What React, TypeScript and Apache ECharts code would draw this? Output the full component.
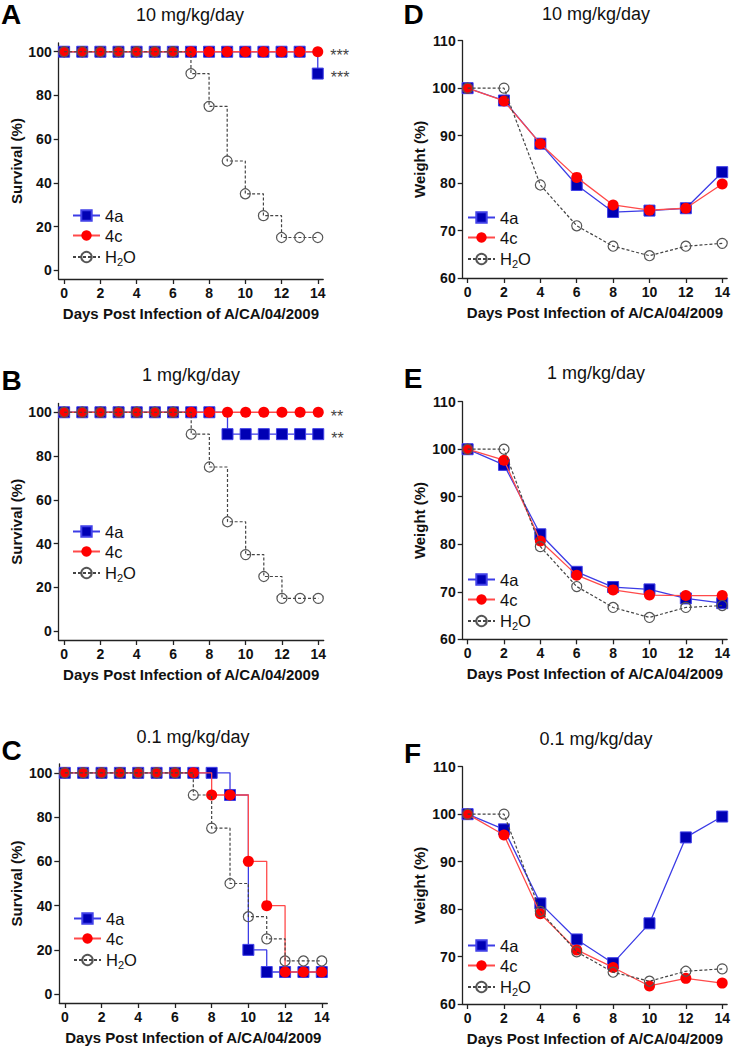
import React, { useEffect, useRef } from "react";
import * as echarts from "echarts";

// ---------- data ----------
const survivalDays = [0, 1, 2, 3, 4, 5, 6, 7, 8, 9, 10, 11, 12, 13, 14];
const weightDays = [0, 2, 4, 6, 8, 10, 12, 14];
const xTickValues = [0, 2, 4, 6, 8, 10, 12, 14];
const survivalYTicks = [0, 20, 40, 60, 80, 100];
const weightYTicks = [60, 70, 80, 90, 100, 110];
const seriesNames = ["4a", "4c", "H2O"];

const panelTitles = ["10 mg/kg/day", "1 mg/kg/day", "0.1 mg/kg/day", "10 mg/kg/day", "1 mg/kg/day", "0.1 mg/kg/day"];
const panelLetters = ["A", "B", "C", "D", "E", "F"];

// Survival (%) panels A, B, C
const survA_4a = [100, 100, 100, 100, 100, 100, 100, 100, 100, 100, 100, 100, 100, 100, 90];
const survA_4c = [100, 100, 100, 100, 100, 100, 100, 100, 100, 100, 100, 100, 100, 100, 100];
const survA_h2o = [100, 100, 100, 100, 100, 100, 100, 90, 75, 50, 35, 25, 15, 15, 15];

const survB_4a = [100, 100, 100, 100, 100, 100, 100, 100, 100, 90, 90, 90, 90, 90, 90];
const survB_4c = [100, 100, 100, 100, 100, 100, 100, 100, 100, 100, 100, 100, 100, 100, 100];
const survB_h2o = [100, 100, 100, 100, 100, 100, 100, 90, 75, 50, 35, 25, 15, 15, 15];

const survC_4a = [100, 100, 100, 100, 100, 100, 100, 100, 100, 90, 20, 10, 10, 10, 10];
const survC_4c = [100, 100, 100, 100, 100, 100, 100, 100, 90, 90, 60, 40, 10, 10, 10];
const survC_h2o = [100, 100, 100, 100, 100, 100, 100, 90, 75, 50, 35, 25, 15, 15, 15];

// Significance marks
const sigA = ["***", "***"]; // 4a, 4c
const sigB = ["**", "**"];

// Weight (%) panels D, E, F
const weightD_4a = [100, 97.4, 88.3, 79.6, 73.9, 74.2, 74.7, 82.3];
const weightD_4c = [100, 97.3, 88.3, 81.2, 75.4, 74.3, 74.7, 79.8];
const weightD_h2o = [100, 100, 79.6, 71.0, 66.7, 64.7, 66.7, 67.3];

const weightE_4a = [100, 96.7, 82.1, 74.2, 71.0, 70.5, 68.6, 67.6];
const weightE_4c = [100, 97.7, 80.7, 73.5, 70.4, 69.3, 69.2, 69.2];
const weightE_h2o = [100, 100, 79.5, 71.1, 66.7, 64.6, 66.7, 67.1];

const weightF_4a = [100, 96.8, 81.2, 73.6, 68.6, 77.0, 95.1, 99.5];
const weightF_4c = [100, 95.6, 79.0, 71.4, 67.7, 63.8, 65.4, 64.4];
const weightF_h2o = [100, 100, 79.5, 71.0, 66.7, 64.8, 66.9, 67.4];

// ---------- layout ----------
const FONT = "'Liberation Sans', Arial, Helvetica, sans-serif";
const TXT = "#111";
const AXIS = "#222";

const layouts = [
  { grid: { left: 58.7, top: 43, width: 264.5, height: 236 }, legend: { left: 72, top: 207 }, title: [190, 15], letter: [11, 4] },
  { grid: { left: 58.7, top: 403.5, width: 265, height: 236.5 }, legend: { left: 72, top: 523 }, title: [191, 375], letter: [11.5, 370] },
  { grid: { left: 59.3, top: 764, width: 268, height: 239 }, legend: { left: 73, top: 910 }, title: [193, 737], letter: [11.5, 740] },
  { grid: { left: 462.7, top: 40.7, width: 266, height: 237.3 }, legend: { left: 467, top: 209 }, title: [596, 14], letter: [413.5, 4] },
  { grid: { left: 462.7, top: 401.7, width: 266, height: 237.6 }, legend: { left: 467, top: 571 }, title: [596, 373], letter: [413, 368] },
  { grid: { left: 462.7, top: 766.7, width: 266, height: 237.3 }, legend: { left: 467, top: 937 }, title: [596, 739], letter: [412.5, 743] },
];

const styles: Record<string, any> = {
  "4a": {
    symbol: "rect",
    symbolSize: 11,
    itemStyle: { color: "#0000b4", borderColor: "#4040e8", borderWidth: 1 },
    lineStyle: { color: "#3c3ce6", width: 1.3 },
    z: 3,
  },
  "4c": {
    symbol: "circle",
    symbolSize: 11,
    itemStyle: { color: "#ff0000" },
    lineStyle: { color: "#ff4a4a", width: 1.3 },
    z: 4,
  },
  H2O: {
    symbol: "circle",
    symbolSize: 10,
    itemStyle: { color: "rgba(255,255,255,0)", borderColor: "#555", borderWidth: 1.2 },
    lineStyle: { color: "#444", width: 1.2, type: [3, 2] },
    z: 5,
  },
};

function makeSeries(idx: number, name: string, days: number[], vals: number[], step: boolean, sig?: string) {
  const last = days.length - 1;
  return {
    type: "line",
    name,
    xAxisIndex: idx,
    yAxisIndex: idx,
    step: step ? "end" : false,
    ...styles[name],
    data: days.map((d, i) =>
      sig && i === last
        ? {
            value: [d, vals[i]],
            label: {
              show: true,
              formatter: sig,
              position: "right",
              distance: 7,
              offset: [0, 4],
              fontSize: 16,
              fontFamily: FONT,
              color: "#444",
            },
          }
        : { value: [d, vals[i]] }
    ),
  };
}

export default function App() {
  const ref = useRef<HTMLDivElement>(null);

  useEffect(() => {
    if (!ref.current) return;
    const chart = echarts.init(ref.current, null, { renderer: "svg" });

    const survival = [
      [survA_4a, survA_4c, survA_h2o, sigA],
      [survB_4a, survB_4c, survB_h2o, sigB],
      [survC_4a, survC_4c, survC_h2o, null],
    ] as any[];
    const weight = [
      [weightD_4a, weightD_4c, weightD_h2o],
      [weightE_4a, weightE_4c, weightE_h2o],
      [weightF_4a, weightF_4c, weightF_h2o],
    ];

    const series: any[] = [];
    survival.forEach((p, i) => {
      series.push(makeSeries(i, "4a", survivalDays, p[0], true, p[3] ? p[3][0] : undefined));
      series.push(makeSeries(i, "4c", survivalDays, p[1], true, p[3] ? p[3][1] : undefined));
      series.push(makeSeries(i, "H2O", survivalDays, p[2], true));
    });
    weight.forEach((p, j) => {
      const i = j + 3;
      series.push(makeSeries(i, "4a", weightDays, p[0], false));
      series.push(makeSeries(i, "4c", weightDays, p[1], false));
      series.push(makeSeries(i, "H2O", weightDays, p[2], false));
    });

    const axisLine = { show: true, onZero: false, lineStyle: { color: AXIS, width: 1.3 } };
    const tickStyle = { color: AXIS, width: 1.3 };
    const labelStyle = { fontFamily: FONT, fontSize: 14, fontWeight: "bold", color: TXT };
    const nameStyle = { fontFamily: FONT, fontSize: 15, fontWeight: "bold", color: TXT };

    const xAxis = layouts.map((_, i) => ({
      type: "value",
      gridIndex: i,
      min: i < 3 ? -0.3 : -0.27,
      max: i < 3 ? 14.3 : 14.27,
      axisLine,
      axisTick: { show: true, length: 5, customValues: xTickValues, lineStyle: tickStyle },
      axisLabel: { ...labelStyle, margin: 7, customValues: xTickValues },
      splitLine: { show: false },
      name: "Days Post Infection of A/CA/04/2009",
      nameLocation: "middle",
      nameGap: 27,
      nameTextStyle: nameStyle,
    }));

    const yAxis = layouts.map((_, i) => {
      const surv = i < 3;
      const ticks = surv ? survivalYTicks : weightYTicks;
      return {
        type: "value",
        gridIndex: i,
        min: surv ? -4 : 60,
        max: surv ? 104 : 110,
        axisLine,
        axisTick: { show: true, length: 5, customValues: ticks, lineStyle: tickStyle },
        axisLabel: { ...labelStyle, margin: 7, customValues: ticks },
        splitLine: { show: false },
        name: surv ? "Survival (%)" : "Weight (%)",
        nameLocation: "middle",
        nameGap: surv ? 35 : 36,
        nameTextStyle: nameStyle,
      };
    });

    const legend = layouts.map((l) => ({
      left: l.legend.left,
      top: l.legend.top,
      orient: "vertical",
      padding: 0,
      itemWidth: 27,
      itemHeight: 13,
      itemGap: 3,
      selectedMode: false,
      data: seriesNames,
      formatter: (n: string) => (n === "H2O" ? "{b|H}{s|2}{b|O}" : "{b|" + n + "}"),
      textStyle: {
        fontFamily: FONT,
        fontSize: 16.5,
        color: TXT,
        rich: {
          b: { fontFamily: FONT, fontSize: 16.5, color: TXT, lineHeight: 20 },
          s: { fontFamily: FONT, fontSize: 11, color: TXT, lineHeight: 11, padding: [9, 0, 0, 0] },
        },
      },
    }));

    const graphic: any[] = [];
    layouts.forEach((l, i) => {
      graphic.push({
        type: "text",
        x: l.title[0],
        y: l.title[1],
        style: {
          text: panelTitles[i],
          font: `18px ${FONT}`,
          fill: TXT,
          textAlign: "center",
          textVerticalAlign: "middle",
        },
      });
      graphic.push({
        type: "text",
        x: l.letter[0],
        y: l.letter[1] - 4,
        style: {
          text: panelLetters[i],
          font: `bold 28px ${FONT}`,
          fill: "#000",
          textAlign: "center",
          textVerticalAlign: "top",
        },
      });
    });

    chart.setOption({
      animation: false,
      backgroundColor: "#fff",
      textStyle: { fontFamily: FONT },
      grid: layouts.map((l) => ({ ...l.grid, containLabel: false })),
      xAxis,
      yAxis,
      legend,
      graphic,
      series,
    });

    return () => chart.dispose();
  }, []);

  return (
    <div
      ref={ref}
      style={{ position: "absolute", left: 0, top: 0, width: 733, height: 1050, background: "#fff" }}
    />
  );
}
